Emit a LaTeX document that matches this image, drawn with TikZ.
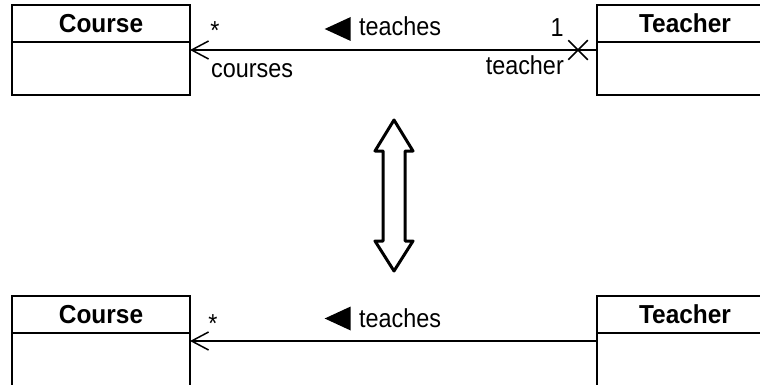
\documentclass[tikz,border=0pt]{standalone}
\usepackage{fontspec}
\setmainfont[FakeStretch=0.9, BoldFeatures={FakeStretch=0.94}]{Liberation Sans}
\usepackage{tikz}
\usetikzlibrary{arrows.meta, positioning, shapes.geometric, shapes.misc}

\begin{document}
\begin{tikzpicture}[
    x=1pt, y=-1pt,
    font=\fontsize{26}{30}\selectfont,
    >={Straight Barb[length=17pt, width=18pt, line width=1.5pt]},
    classhead/.style = {
        rectangle, draw, line width=1.5pt,
        minimum width=178pt, minimum height=37pt,
        inner sep=0pt, outer sep=0pt,
        font=\fontsize{26}{30}\selectfont\bfseries
    },
    classbody/.style = {
        rectangle, draw, line width=1.5pt,
        minimum width=178pt, minimum height=53pt,
        inner sep=0pt, outer sep=0pt
    },
    readdir/.style = {
        isosceles triangle, shape border rotate=180,
        isosceles triangle stretches, fill=black,
        minimum width=24pt, minimum height=26pt, inner sep=0pt
    },
    navx/.style = {
        cross out, draw, line width=1.5pt,
        minimum size=18pt, inner sep=0pt
    },
    endlabel/.style = {inner sep=0pt},
    assoc/.style = {->, line width=1.5pt},
    equiv/.style = {draw, line width=3pt, line join=round}
]
\useasboundingbox (0,0) rectangle (760,385);

% ===== UPPER MODEL =====
\node[classhead] (course1) at (101,23.5) {Course};
\node[classbody, below=0pt of course1] (course1body) {};
\node[classhead, minimum width=176pt] (teacher1) at (685,23.5) {Teacher};
\node[classbody, minimum width=176pt, below=0pt of teacher1] (teacher1body) {};

\node[navx] (xmark) at (578,50) {};

\node[readdir] (dir1) at (343,29) {};
\node[endlabel, anchor=base west] (teaches1) at (359,36) {teaches};
\node[endlabel, anchor=base] (mult1c) at (215,40) {*};
\node[endlabel, anchor=base] (mult1t) at (557,37) {1};
\node[endlabel, anchor=base west] (role1c) at (211,78) {courses};
\node[endlabel, anchor=base east] (role1t) at (564,75) {teacher};

% ===== EQUIVALENCE =====
\draw[equiv] (394,120) -- (413,151) -- (405,151) -- (405,241) -- (413,241)
    -- (394,271) -- (375,241) -- (383,241) -- (383,151) -- (375,151) -- cycle;

% ===== LOWER MODEL =====
\node[classhead] (course2) at (101,314.5) {Course};
\node[classbody, below=0pt of course2] (course2body) {};
\node[classhead, minimum width=176pt] (teacher2) at (685,314.5) {Teacher};
\node[classbody, minimum width=176pt, below=0pt of teacher2] (teacher2body) {};

\node[readdir] (dir2) at (343,318.5) {};
\node[endlabel, anchor=base west] (teaches2) at (359,327) {teaches};
\node[endlabel, anchor=base] (mult2c) at (213,332) {*};

% ===== ASSOCIATIONS =====
\draw[assoc] ([yshift=-8pt]teacher1body.north west) -- ([yshift=-8pt]course1body.north east);
\draw[assoc] ([yshift=-8pt]teacher2body.north west) -- ([yshift=-8pt]course2body.north east);
\end{tikzpicture}
\end{document}
